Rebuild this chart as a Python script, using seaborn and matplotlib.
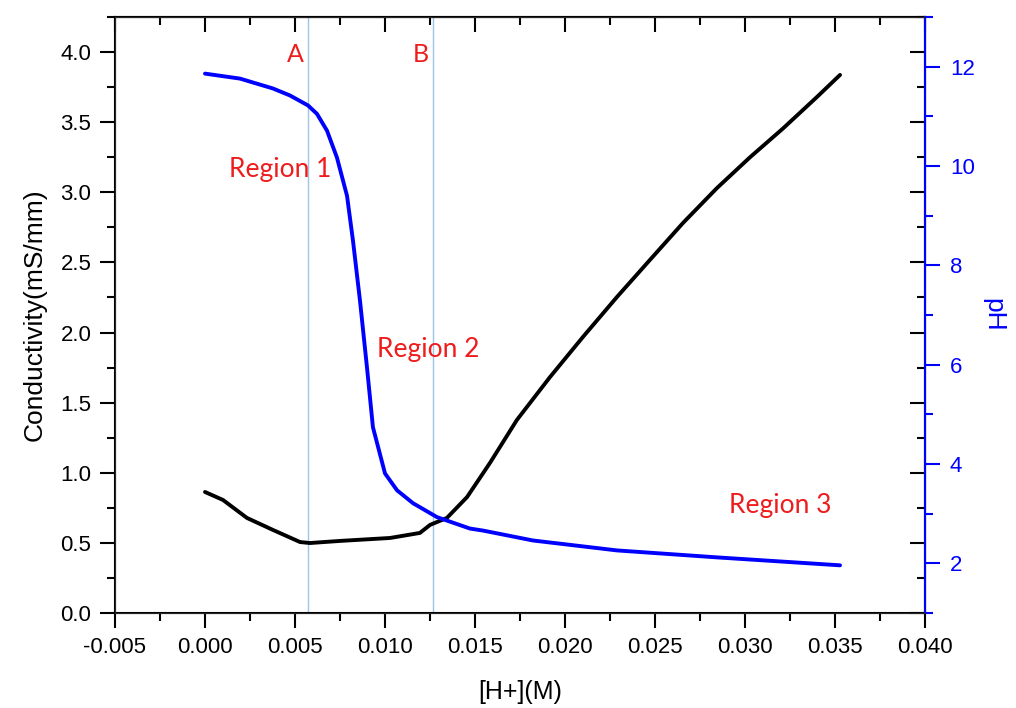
import numpy as np
import pandas as pd
import matplotlib
matplotlib.use("Agg")
import matplotlib.pyplot as plt
from matplotlib.ticker import MultipleLocator, FormatStrFormatter
import seaborn as sns

# conductivity curve
conc_cond = [0.0, 0.001, 0.00233, 0.00378, 0.00528, 0.00583, 0.0075, 0.01028,
             0.01194, 0.0125, 0.01344, 0.01456, 0.01583, 0.01733, 0.01917,
             0.021, 0.02289, 0.02472, 0.02656, 0.02844, 0.03028, 0.03211,
             0.034, 0.03528]
cond = [0.863, 0.806, 0.678, 0.592, 0.506, 0.499, 0.514, 0.535,
        0.571, 0.628, 0.678, 0.827, 1.070, 1.377, 1.683,
        1.969, 2.254, 2.518, 2.782, 3.030, 3.250, 3.455,
        3.680, 3.837]

# pH curve
conc_ph = [0.0, 0.00194, 0.00378, 0.00472, 0.00572, 0.00622, 0.00678, 0.00733,
           0.00789, 0.00822, 0.0085, 0.00861, 0.009, 0.00933, 0.01, 0.01067,
           0.01156, 0.01289, 0.01472, 0.01544, 0.01822, 0.02289, 0.02844,
           0.03528]
ph = [11.86, 11.76, 11.56, 11.42, 11.22, 11.05, 10.71, 10.17,
      9.40, 8.50, 7.63, 7.29, 5.94, 4.74, 3.81, 3.47,
      3.21, 2.93, 2.70, 2.66, 2.46, 2.26, 2.12,
      1.96]

marker_x = [0.00572, 0.01267]
marker_names = ["A", "B"]
region_names = ["Region 1", "Region 2", "Region 3"]
region_pos = [(0.00417, 3.16), (0.01239, 1.876), (0.03194, 0.77)]

sns.set_style("ticks")
plt.rcParams['font.family'] = ['Liberation Sans', 'DejaVu Sans']
plt.rcParams['axes.labelcolor'] = 'black'

df_cond = pd.DataFrame({"conc": conc_cond, "cond": cond})
df_ph = pd.DataFrame({"conc": conc_ph, "ph": ph})

fig = plt.figure(figsize=(10.16, 7.08), dpi=100)
ax = fig.add_axes([115/1016, 1-613/708, 810/1016, 596/708])

sns.lineplot(data=df_cond, x="conc", y="cond", ax=ax, color="black",
             linewidth=2.8, sort=False)
for xm in marker_x:
    ax.axvline(xm, color="#9dc3e6", linewidth=1.0, zorder=0)

ax.set_xlim(-0.005, 0.040)
ax.set_ylim(0, 4.25)
ax.xaxis.set_major_locator(MultipleLocator(0.005))
ax.xaxis.set_minor_locator(MultipleLocator(0.0025))
ax.xaxis.set_major_formatter(FormatStrFormatter('%.3f'))
ax.yaxis.set_major_locator(MultipleLocator(0.5))
ax.yaxis.set_minor_locator(MultipleLocator(0.25))
ax.yaxis.set_major_formatter(FormatStrFormatter('%.1f'))
ax.tick_params(which='both', direction='out', width=1.5, labelsize=16,
               right=False, top=False, colors='black')
ax.tick_params(which='major', length=11, pad=6)
ax.tick_params(which='minor', length=6)
for s in ax.spines.values():
    s.set_linewidth(1.5)
    s.set_color('black')
ax.set_xlabel("[H+](M)", fontsize=18, labelpad=16, color='black')
ax.set_ylabel("Conductivity(mS/mm)", fontsize=19, labelpad=10, color='black')

# mirrored ticks on top and right (pointing inwards)
top = ax.secondary_xaxis('top')
top.xaxis.set_major_locator(MultipleLocator(0.005))
top.xaxis.set_minor_locator(MultipleLocator(0.0025))
top.tick_params(which='both', direction='in', width=1.5, labeltop=False,
                colors='black')
top.tick_params(which='major', length=11)
top.tick_params(which='minor', length=6)
top.spines['top'].set_linewidth(1.5)

rgt = ax.secondary_yaxis('right')
rgt.yaxis.set_major_locator(MultipleLocator(0.5))
rgt.yaxis.set_minor_locator(MultipleLocator(0.25))
rgt.tick_params(which='both', direction='in', width=1.5, labelright=False,
                colors='black')
rgt.tick_params(which='major', length=11)
rgt.tick_params(which='minor', length=6)

# pH on the right axis
ax2 = ax.twinx()
sns.lineplot(data=df_ph, x="conc", y="ph", ax=ax2, color="#0000ff",
             linewidth=2.8, sort=False)
ax2.set_ylim(1, 13)
ax2.yaxis.set_major_locator(MultipleLocator(2))
ax2.yaxis.set_minor_locator(MultipleLocator(1))
ax2.tick_params(which='both', direction='out', width=1.5, colors='#0000ff',
                labelsize=16)
ax2.tick_params(which='major', length=11, pad=7)
ax2.tick_params(which='minor', length=6)
ax2.spines['right'].set_color('#0000ff')
ax2.spines['right'].set_linewidth(1.5)
ax2.set_ylabel("pH", fontsize=19, color='#0000ff', rotation=270, labelpad=22)
ax2.set_xlabel("")

for name, xm in zip(marker_names, marker_x):
    ax.text(xm - 0.0007, 3.98, name, color='#ee1c1c', fontsize=18,
            ha='center', va='center', family=['Lato', 'DejaVu Sans'])
for name, (xr, yr) in zip(region_names, region_pos):
    ax.text(xr, yr, name, color='#ee1c1c', fontsize=19,
            ha='center', va='center', family=['Lato', 'DejaVu Sans'])

fig.savefig("out.png", dpi=100)
